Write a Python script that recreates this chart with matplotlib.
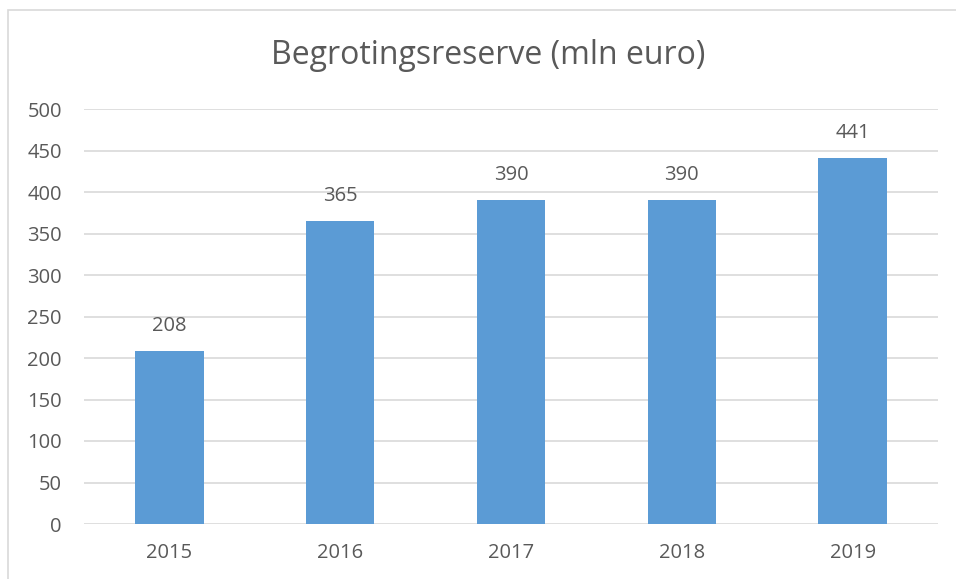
import matplotlib
matplotlib.use("Agg")
import matplotlib.pyplot as plt
from matplotlib.patches import Rectangle

years = ["2015", "2016", "2017", "2018", "2019"]
values = [208, 365, 390, 390, 441]
yticks = [0, 50, 100, 150, 200, 250, 300, 350, 400, 450, 500]

plt.rcParams['font.family'] = ['Open Sans', 'DejaVu Sans']
txt = '#595959'

fig = plt.figure(figsize=(9.56, 5.79), dpi=100)
ax = fig.add_axes([84/956, 1-524/579, (938-84)/956, (524-109)/579])

x = range(len(years))
ax.bar(x, values, width=0.4, color='#5B9BD5', zorder=3)
for xi, v in zip(x, values):
    ax.annotate(str(v), (xi, v), xytext=(0, 18), textcoords='offset points',
                ha='center', va='center', fontsize=14.5, color=txt)

ax.set_xlim(-0.5, len(years)-0.5)
ax.set_ylim(0, 500)
ax.set_yticks(yticks)
ax.set_xticks(list(x))
ax.set_xticklabels(years)
ax.tick_params(axis='both', length=0, labelsize=14.5, labelcolor=txt)
ax.tick_params(axis='y', pad=16)
ax.tick_params(axis='x', pad=14)
ax.grid(axis='y', color='#D9D9D9', linewidth=1.2, zorder=0)
for s in ax.spines.values():
    s.set_visible(False)

fig.text(488/956, 1-55/579, "Begrotingsreserve (mln euro)", ha='center', va='center',
         fontsize=23, color=txt)

fig.patches.append(Rectangle((8/956, -0.1), 1.2, 1-10/579+0.1, transform=fig.transFigure,
                             fill=False, edgecolor='#D9D9D9', linewidth=1.2))

fig.savefig("out.png", dpi=100)
